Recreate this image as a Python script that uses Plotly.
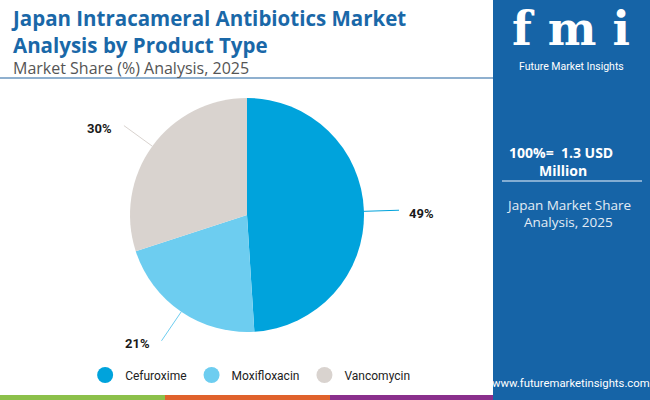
import math
import plotly.graph_objects as go

categories = ["Cefuroxime", "Moxifloxacin", "Vancomycin"]
shares = [49, 21, 30]
colors = ["#00a3dc", "#6dcdf0", "#d9d3cf"]
label_text = ["49%", "21%", "30%"]

W, H = 650, 400
SIDEBAR_X = 493
PIE_CX, PIE_CY, PIE_R = 247, 215, 117  # pixels

fig = go.Figure()

fig.add_trace(go.Pie(
    labels=categories, values=shares, sort=False, direction="clockwise", rotation=0,
    marker=dict(colors=colors, line=dict(width=0)), textinfo="none", hoverinfo="label+percent",
    showlegend=False,
    domain=dict(x=[(PIE_CX - PIE_R) / W, (PIE_CX + PIE_R) / W],
                y=[1 - (PIE_CY + PIE_R) / H, 1 - (PIE_CY - PIE_R) / H]),
))

# legend via dummy scatter traces (circle markers)
for c, col in zip(categories, colors):
    fig.add_trace(go.Scatter(x=[None], y=[None], mode="markers", name=c,
                             marker=dict(size=17, color=col, symbol="circle")))

shapes = []
annotations = []

# outside labels with leader lines computed from data
total = sum(shares)
cum = 0
for v, col, t in zip(shares, colors, label_text):
    mid = (cum + v / 2) / total * 2 * math.pi
    cum += v
    sx, sy = math.sin(mid), -math.cos(mid)
    x0, y0 = PIE_CX + PIE_R * sx, PIE_CY + PIE_R * sy
    x1, y1 = PIE_CX + PIE_R * 1.3 * sx, PIE_CY + PIE_R * 1.3 * sy
    right = sx >= 0
    shapes.append(dict(type="line", xref="paper", yref="paper",
                       x0=x0 / W, y0=1 - y0 / H, x1=x1 / W, y1=1 - y1 / H,
                       line=dict(color=col, width=1)))
    annotations.append(dict(x=(x1 + (8 if right else -10)) / W, y=1 - (y1 + 3) / H,
                            xref="paper", yref="paper", xanchor="left" if right else "right",
                            yanchor="middle", text="<b>%s</b>" % t, showarrow=False,
                            font=dict(family="Roboto", size=13, color="#1a1a1a")))

# sidebar
shapes.append(dict(type="rect", xref="paper", yref="paper", x0=SIDEBAR_X / W, x1=1, y0=0, y1=1,
                   fillcolor="#1664a7", line=dict(width=0), layer="below"))
# separator under subtitle
shapes.append(dict(type="line", xref="paper", yref="paper", x0=0, x1=SIDEBAR_X / W,
                   y0=1 - 78 / H, y1=1 - 78 / H, line=dict(color="#8fb0cf", width=2)))
# sidebar divider
shapes.append(dict(type="line", xref="paper", yref="paper", x0=502 / W, x1=642 / W,
                   y0=1 - 181 / H, y1=1 - 181 / H, line=dict(color="#a9c6e2", width=1.5)))
# bottom colour strip
for xa, xb, col in [(0, 165, "#8cc04a"), (165, 330, "#e0622c"), (330, SIDEBAR_X, "#8a2f8c")]:
    shapes.append(dict(type="rect", xref="paper", yref="paper", x0=xa / W, x1=xb / W,
                       y0=0, y1=5 / H, fillcolor=col, line=dict(width=0)))


def ann(x, y, text, size, color, family="Roboto", xanchor="left", align="center"):
    annotations.append(dict(x=x / W, y=1 - y / H, xref="paper", yref="paper", text=text,
                            showarrow=False, xanchor=xanchor, yanchor="middle",
                            font=dict(family=family, size=size, color=color), align=align))


ann(9, 31, "<b>Japan Intracameral Antibiotics Market<br>Analysis by Product Type</b>",
    20.5, "#1a68a8", "Open Sans", align="left")
ann(11, 68, "Market Share (%) Analysis, 2025", 16, "#555555", "Open Sans")

ann(571, 29, "<b>f m i</b>", 46, "#ffffff", "DejaVu Serif", "center")
ann(571, 66, "Future Market Insights", 10.5, "#ffffff", "Roboto", "center")
ann(561, 152, "<b>100%=  1.3 USD</b>", 14, "#ffffff", "Open Sans", "center")
ann(563, 170, "<b>Million</b>", 14, "#ffffff", "Open Sans", "center")
ann(568, 205, "Japan Market Share", 13.5, "#e3ecf5", "Open Sans", "center")
ann(568, 222, "Analysis, 2025", 13.5, "#e3ecf5", "Open Sans", "center")
ann(571, 383, "www.futuremarketinsights.com", 11.3, "#ffffff", "Roboto", "center")

fig.update_layout(
    width=W, height=H, margin=dict(l=0, r=0, t=0, b=0),
    paper_bgcolor="#ffffff", plot_bgcolor="rgba(0,0,0,0)",
    xaxis=dict(visible=False, domain=[0, 0.01]), yaxis=dict(visible=False, domain=[0, 0.01]),
    shapes=shapes, annotations=annotations,
    legend=dict(orientation="h", x=0.131, y=1 - 375 / H, xanchor="left", yanchor="middle",
                font=dict(family="Roboto", size=12, color="#222222"),
                itemsizing="trace", bgcolor="rgba(0,0,0,0)", tracegroupgap=0),
)

fig.write_html("out.html", config={"displayModeBar": False},
               post_script="document.body.style.margin='0';document.body.style.padding='0';")
